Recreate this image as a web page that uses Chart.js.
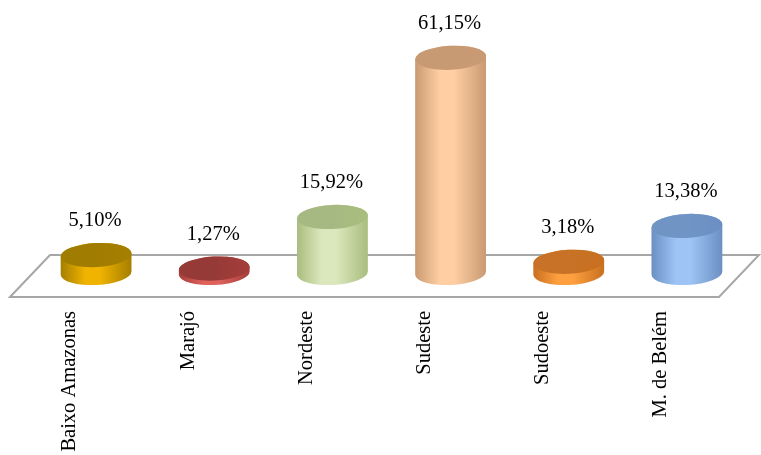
<!DOCTYPE html>
<html>
<head>
<meta charset="utf-8">
<script src="https://cdn.jsdelivr.net/npm/chart.js@4/dist/chart.umd.min.js"></script>
<style>
  html, body { margin: 0; padding: 0; background: #fff; }
  #wrap { width: 761px; height: 455px; }
</style>
</head>
<body>
<div id="wrap"><canvas id="c" width="761" height="455"></canvas></div>
<script>
// data
const regions = ["Baixo Amazonas", "Marajó", "Nordeste", "Sudeste", "Sudoeste", "M. de Belém"];
const shares = [5.10, 1.27, 15.92, 61.15, 3.18, 13.38];

// colours per cylinder: [dark edge, light middle, top]
const barColors = [
    ["#a57f00", "#f0b300", "#a07c00"],
    ["#a53d3a", "#e0625d", "#963a37"],
    ["#a9bd7e", "#dbe8bd", "#a6b982"],
    ["#c99a72", "#ffcfa3", "#c89a74"],
    ["#c8701f", "#ffa040", "#c77226"],
    ["#6b8fc2", "#9ec4f5", "#7094c4"]
];

// depth of the fake 3d floor and where the cylinders sit in it
const depthX = 40, depthY = -42;
const barShiftX = 26, barShiftY = -24;
const ellipseRy = 12;
const tilt = -0.05;

const floorPlugin = {
    id: 'floor',
    beforeDatasetsDraw(chart) {
        const ctx = chart.ctx, a = chart.chartArea;
        const l = a.left - 1, r = a.right - 1, b = a.bottom;
        ctx.save();
        ctx.beginPath();
        ctx.moveTo(l, b);
        ctx.lineTo(l + depthX, b + depthY);
        ctx.lineTo(r + depthX, b + depthY);
        ctx.lineTo(r, b);
        ctx.closePath();
        ctx.fillStyle = '#fff';
        ctx.fill();
        ctx.strokeStyle = '#a6a6a6';
        ctx.lineWidth = 2;
        ctx.stroke();
        ctx.restore();
    }
};

const cylinderPlugin = {
    id: 'cylinders',
    afterDatasetsDraw(chart) {
        const ctx = chart.ctx;
        const meta = chart.getDatasetMeta(0);
        ctx.save();
        meta.data.forEach(function(bar, i) {
            const col = barColors[i];
            const cx = bar.x + barShiftX;
            const rx = bar.width / 2;
            const by = bar.base + barShiftY;
            const ty = bar.y + barShiftY;

            const grad = ctx.createLinearGradient(cx - rx, 0, cx + rx, 0);
            grad.addColorStop(0, col[0]);
            grad.addColorStop(0.35, col[1]);
            grad.addColorStop(0.55, col[1]);
            grad.addColorStop(1, col[0]);

            ctx.beginPath();
            ctx.ellipse(cx, by, rx, ellipseRy, tilt, Math.PI, 0, true);
            ctx.ellipse(cx, ty, rx, ellipseRy, tilt, 0, -Math.PI, true);
            ctx.closePath();
            ctx.fillStyle = grad;
            ctx.fill();

            const tg = ctx.createLinearGradient(cx - rx, 0, cx + rx, 0);
            tg.addColorStop(0, col[2]);
            tg.addColorStop(0.5, col[2]);
            tg.addColorStop(1, col[0]);
            ctx.beginPath();
            ctx.ellipse(cx, ty, rx, ellipseRy, tilt, 0, Math.PI * 2);
            ctx.fillStyle = tg;
            ctx.fill();

            // value label
            ctx.fillStyle = '#000';
            ctx.font = '20.5px "Liberation Serif", "Times New Roman", serif';
            ctx.textAlign = 'center';
            ctx.textBaseline = 'middle';
            const txt = shares[i].toFixed(2).replace('.', ',') + '%';
            ctx.fillText(txt, cx - 1, ty - 34);
        });
        ctx.restore();
    }
};

new Chart(document.getElementById('c').getContext('2d'), {
    type: 'bar',
    data: {
        labels: regions,
        datasets: [{
            data: shares,
            backgroundColor: 'rgba(0,0,0,0)',
            borderWidth: 0,
            barPercentage: 0.6,
            categoryPercentage: 1
        }]
    },
    options: {
        responsive: false,
        animation: false,
        devicePixelRatio: 1,
        layout: { padding: { top: 12, left: 11, right: 41, bottom: 0 } },
        plugins: { legend: { display: false }, tooltip: { enabled: false } },
        scales: {
            y: { display: false, min: 0, max: 81 },
            x: {
                grid: { display: false, drawTicks: false },
                border: { display: false },
                ticks: {
                    color: '#000',
                    font: { family: '"Liberation Serif", "Times New Roman", serif', size: 20.5 },
                    minRotation: 90,
                    maxRotation: 90,
                    padding: 14,
                    autoSkip: false
                },
                afterFit: function(scale) { scale.height = 158; }
            }
        }
    },
    plugins: [floorPlugin, cylinderPlugin]
});
</script>
</body>
</html>
